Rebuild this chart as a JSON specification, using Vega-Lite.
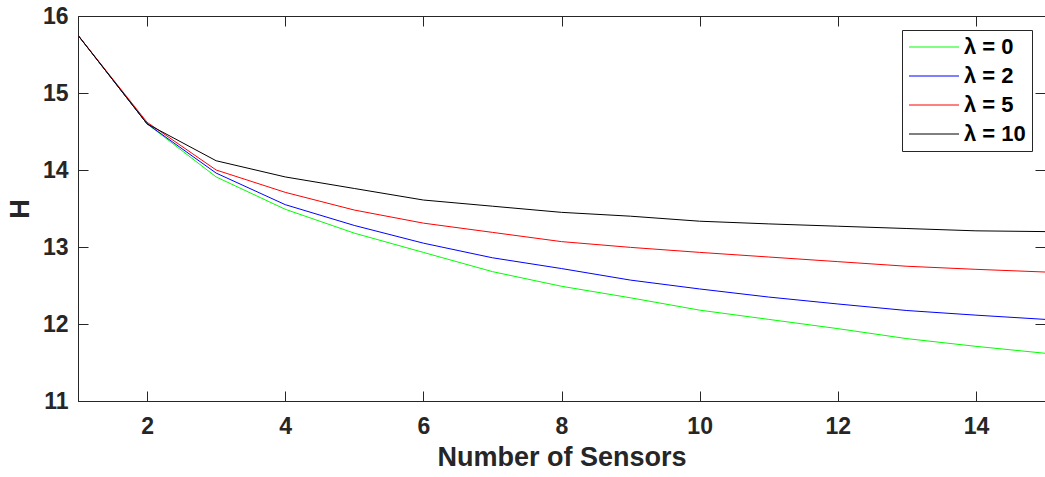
{
  "$schema": "https://vega.github.io/schema/vega-lite/v6.json",
  "width": 967,
  "height": 385,
  "autosize": {"type": "none"},
  "padding": {"left": 78, "top": 16, "right": 0, "bottom": 76},
  "background": "white",
  "config": {
    "view": {"stroke": "#262626", "strokeWidth": 1},
    "font": "Liberation Sans",
    "axis": {
      "grid": false,
      "domainColor": "#262626",
      "tickColor": "#262626",
      "labelColor": "#262626",
      "titleColor": "#262626",
      "labelFont": "Liberation Sans",
      "labelFontWeight": "bold",
      "labelFontSize": 23,
      "titleFont": "Liberation Sans",
      "titleFontWeight": "bold",
      "titleFontSize": 27,
      "tickSize": -10,
      "tickWidth": 1
    }
  },
  "data": {
    "values": [
      {"n": 1, "H": 15.75, "s": "λ = 0"}, {"n": 2, "H": 14.60, "s": "λ = 0"}, {"n": 3, "H": 13.91, "s": "λ = 0"}, {"n": 4, "H": 13.49, "s": "λ = 0"}, {"n": 5, "H": 13.18, "s": "λ = 0"}, {"n": 6, "H": 12.93, "s": "λ = 0"}, {"n": 7, "H": 12.68, "s": "λ = 0"}, {"n": 8, "H": 12.49, "s": "λ = 0"}, {"n": 9, "H": 12.34, "s": "λ = 0"}, {"n": 10, "H": 12.18, "s": "λ = 0"}, {"n": 11, "H": 12.06, "s": "λ = 0"}, {"n": 12, "H": 11.94, "s": "λ = 0"}, {"n": 13, "H": 11.81, "s": "λ = 0"}, {"n": 14, "H": 11.71, "s": "λ = 0"}, {"n": 15, "H": 11.62, "s": "λ = 0"},
      {"n": 1, "H": 15.75, "s": "λ = 2"}, {"n": 2, "H": 14.60, "s": "λ = 2"}, {"n": 3, "H": 13.96, "s": "λ = 2"}, {"n": 4, "H": 13.55, "s": "λ = 2"}, {"n": 5, "H": 13.28, "s": "λ = 2"}, {"n": 6, "H": 13.05, "s": "λ = 2"}, {"n": 7, "H": 12.86, "s": "λ = 2"}, {"n": 8, "H": 12.72, "s": "λ = 2"}, {"n": 9, "H": 12.57, "s": "λ = 2"}, {"n": 10, "H": 12.455, "s": "λ = 2"}, {"n": 11, "H": 12.35, "s": "λ = 2"}, {"n": 12, "H": 12.26, "s": "λ = 2"}, {"n": 13, "H": 12.175, "s": "λ = 2"}, {"n": 14, "H": 12.115, "s": "λ = 2"}, {"n": 15, "H": 12.06, "s": "λ = 2"},
      {"n": 1, "H": 15.75, "s": "λ = 5"}, {"n": 2, "H": 14.62, "s": "λ = 5"}, {"n": 3, "H": 14.00, "s": "λ = 5"}, {"n": 4, "H": 13.71, "s": "λ = 5"}, {"n": 5, "H": 13.48, "s": "λ = 5"}, {"n": 6, "H": 13.31, "s": "λ = 5"}, {"n": 7, "H": 13.19, "s": "λ = 5"}, {"n": 8, "H": 13.07, "s": "λ = 5"}, {"n": 9, "H": 12.995, "s": "λ = 5"}, {"n": 10, "H": 12.93, "s": "λ = 5"}, {"n": 11, "H": 12.87, "s": "λ = 5"}, {"n": 12, "H": 12.81, "s": "λ = 5"}, {"n": 13, "H": 12.75, "s": "λ = 5"}, {"n": 14, "H": 12.71, "s": "λ = 5"}, {"n": 15, "H": 12.675, "s": "λ = 5"},
      {"n": 1, "H": 15.75, "s": "λ = 10"}, {"n": 2, "H": 14.60, "s": "λ = 10"}, {"n": 3, "H": 14.12, "s": "λ = 10"}, {"n": 4, "H": 13.91, "s": "λ = 10"}, {"n": 5, "H": 13.76, "s": "λ = 10"}, {"n": 6, "H": 13.61, "s": "λ = 10"}, {"n": 7, "H": 13.53, "s": "λ = 10"}, {"n": 8, "H": 13.45, "s": "λ = 10"}, {"n": 9, "H": 13.40, "s": "λ = 10"}, {"n": 10, "H": 13.335, "s": "λ = 10"}, {"n": 11, "H": 13.30, "s": "λ = 10"}, {"n": 12, "H": 13.27, "s": "λ = 10"}, {"n": 13, "H": 13.24, "s": "λ = 10"}, {"n": 14, "H": 13.21, "s": "λ = 10"}, {"n": 15, "H": 13.20, "s": "λ = 10"}
    ]
  },
  "layer": [
    {
      "mark": {"type": "line", "strokeWidth": 1, "clip": true},
      "encoding": {
        "x": {
          "field": "n", "type": "quantitative",
          "scale": {"domain": [1, 15], "nice": false, "zero": false},
          "axis": {"values": [2, 4, 6, 8, 10, 12, 14], "title": "Number of Sensors", "labelPadding": 24, "titlePadding": 6}
        },
        "y": {
          "field": "H", "type": "quantitative",
          "scale": {"domain": [11, 16], "nice": false, "zero": false},
          "axis": {"values": [11, 12, 13, 14, 15, 16], "title": "H", "labelPadding": 20, "titlePadding": 8}
        },
        "color": {
          "field": "s", "type": "nominal",
          "scale": {"domain": ["λ = 0", "λ = 2", "λ = 5", "λ = 10"], "range": ["#00FF00", "#0000FF", "#FF0000", "#000000"]},
          "legend": {
            "title": null,
            "orient": "none",
            "legendX": 824,
            "legendY": 14,
            "symbolType": "M-2.5,0H2.5",
            "symbolSize": 400,
            "symbolStrokeWidth": 1,
            "symbolOffset": 15,
            "labelFont": "Liberation Sans",
            "labelFontWeight": "bold",
            "labelFontSize": 22,
            "labelColor": "#000000",
            "labelOffset": 19,
            "strokeColor": "#262626",
            "fillColor": "white",
            "padding": 6,
            "rowPadding": 7
          }
        }
      }
    },
    {
      "mark": {"type": "line", "opacity": 0},
      "encoding": {
        "x": {"field": "n", "type": "quantitative", "axis": {"orient": "top", "values": [2, 4, 6, 8, 10, 12, 14], "labels": false, "title": null, "domain": false}},
        "y": {"field": "H", "type": "quantitative", "axis": {"orient": "right", "values": [11, 12, 13, 14, 15, 16], "labels": false, "title": null, "domain": false}}
      }
    }
  ],
  "resolve": {"axis": {"x": "independent", "y": "independent"}}
}
